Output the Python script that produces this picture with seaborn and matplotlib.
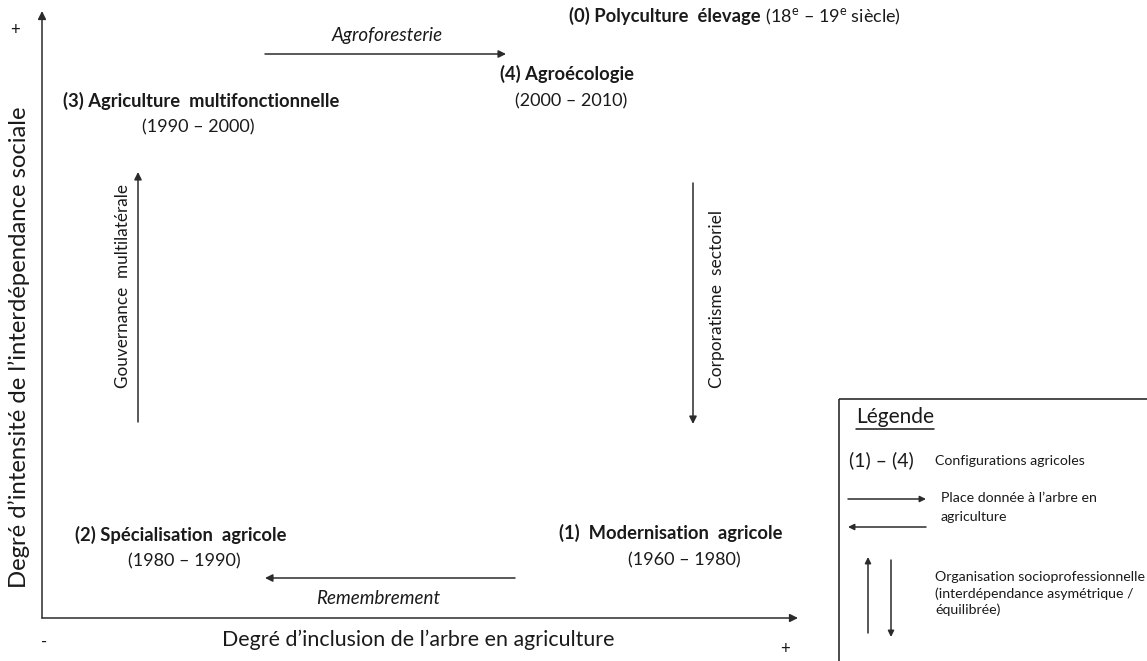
import matplotlib
matplotlib.use("Agg")
import matplotlib.pyplot as plt
import seaborn as sns
from matplotlib.patches import Rectangle

# ---------------- content ----------------
config_labels = ["(1)  Modernisation  agricole", "(2) Spécialisation  agricole",
                 "(3) Agriculture  multifonctionnelle", "(4) Agroécologie"]
config_periods = ["(1960 – 1980)", "(1980 – 1990)", "(1990 – 2000)", "(2000 – 2010)"]
era_label = "(0) Polyculture  élevage"
era_period = r" (18$^{e}$ – 19$^{e}$ siècle)"
transition_labels = ["Agroforesterie", "Remembrement"]
governance_labels = ["Gouvernance  multilatérale", "Corporatisme  sectoriel"]
x_axis_label = "Degré d’inclusion de l’arbre en agriculture"
y_axis_label = "Degré d’intensité de l’interdépendance sociale"
axis_marks = ["+", "-", "+"]
legend_title = "Légende"
legend_key = "(1) – (4)"
legend_config = "Configurations agricoles"
legend_place = ["Place donnée à l’arbre en", "agriculture"]
legend_org = ["Organisation socioprofessionnelle", "(interdépendance asymétrique /", "équilibrée)"]

# ---------------- layout (pixels) ----------------
W, H = 1147, 661
config_label_pos = [(559, 533), (75, 535), (63, 101), (500, 74)]
config_period_pos = [(684, 560), (184, 561), (198, 127), (571, 101)]
era_pos = (569, 17)

sns.set_theme(style="white")
plt.rcParams["font.family"] = ["Lato", "DejaVu Sans"]
plt.rcParams["mathtext.fontset"] = "custom"
plt.rcParams["mathtext.rm"] = "Lato"
plt.rcParams["mathtext.it"] = "Lato:italic"
plt.rcParams["mathtext.bf"] = "Lato:bold"
plt.rcParams["mathtext.default"] = "regular"

TXT = "#1a1a1a"
LINE = "#2b2b2b"
FS_LAB = 13.2
FS_PER = 13
FS_IT = 13.5
FS_LEG = 10.2

fig = plt.figure(figsize=(W / 100, H / 100), dpi=100)
ax = fig.add_axes([0, 0, 1, 1])
ax.set_xlim(0, W)
ax.set_ylim(H, 0)
ax.axis("off")


def arrow(x0, y0, x1, y1, color=LINE, lw=1.1, ms=11):
    ax.annotate("", xy=(x1, y1), xytext=(x0, y0),
                arrowprops=dict(arrowstyle="-|>", color=color, lw=lw,
                                shrinkA=0, shrinkB=0, mutation_scale=ms))


# main axes
arrow(42, 618, 42, 11, ms=12)
arrow(42, 618, 798, 618, ms=12)
ax.text(15, 30, axis_marks[0], fontsize=12, color=TXT, ha="center", va="center")
ax.text(44, 642, axis_marks[1], fontsize=12, color=TXT, ha="center", va="center")
ax.text(785, 649, axis_marks[2], fontsize=12, color=TXT, ha="center", va="center")
ax.text(418, 640, x_axis_label, fontsize=15.4, color=TXT, ha="center", va="center")
ax.text(19, 347, y_axis_label, fontsize=17.2, color=TXT, ha="center", va="center",
        rotation=90)

# configurations
for lab, per, (lx, ly), (px, py) in zip(config_labels, config_periods,
                                         config_label_pos, config_period_pos):
    ax.text(lx, ly, lab, fontsize=FS_LAB, fontweight="bold", color=TXT,
            ha="left", va="center")
    ax.text(px, py, per, fontsize=FS_PER, color=TXT, ha="center", va="center")

# era (0)
t0 = ax.text(era_pos[0], era_pos[1] + 5, era_label, fontsize=FS_LAB, fontweight="bold",
             color=TXT, ha="left", va="baseline")
fig.canvas.draw()
r = fig.canvas.get_renderer()
bb = t0.get_window_extent(r)
x_end = ax.transData.inverted().transform((bb.x1, bb.y0))[0]
ax.text(x_end, era_pos[1] + 5, era_period, fontsize=FS_PER, color=TXT,
        ha="left", va="baseline")

# transitions (horizontal)
arrow(265, 54, 506, 54)
ax.text(387, 35, transition_labels[0], fontsize=FS_IT, style="italic", color=TXT,
        ha="center", va="center")
arrow(515, 578, 265, 578)
ax.text(378, 598, transition_labels[1], fontsize=FS_IT, style="italic", color=TXT,
        ha="center", va="center")

# governance (vertical)
arrow(138, 422, 138, 172)
ax.text(123, 286, governance_labels[0], fontsize=12.3, color=TXT, rotation=90,
        ha="center", va="center")
arrow(693, 183, 693, 424)
ax.text(717, 299, governance_labels[1], fontsize=12.5, color=TXT, rotation=90,
        ha="center", va="center")

# legend box
ax.add_patch(Rectangle((839, 399), 400, 400, fill=False, edgecolor=LINE, lw=1.2,
                       clip_on=True))
tl = ax.text(856, 417, legend_title, fontsize=15, color=TXT, ha="left", va="center")
fig.canvas.draw()
bb = tl.get_window_extent(fig.canvas.get_renderer())
(ux0, _), (ux1, _) = ax.transData.inverted().transform([(bb.x0, bb.y0), (bb.x1, bb.y0)])
ax.plot([ux0, ux1], [429, 429], color=TXT, lw=1.1)

ax.text(849, 460, legend_key, fontsize=14, color=TXT, ha="left", va="center")
ax.text(935, 461, legend_config, fontsize=FS_LEG, color=TXT, ha="left", va="center")
arrow(848, 499, 926, 499, ms=9)
arrow(926, 527, 848, 527, ms=9)
for i, s in enumerate(legend_place):
    ax.text(941, 498 + 19 * i, s, fontsize=FS_LEG, color=TXT, ha="left", va="center")
arrow(868, 633, 868, 557, ms=9)
arrow(891, 560, 891, 637, ms=9)
for i, s in enumerate(legend_org):
    ax.text(935, 577 + 16.5 * i, s, fontsize=FS_LEG, color=TXT, ha="left", va="center")

fig.savefig("out.png", dpi=100, facecolor="white")
